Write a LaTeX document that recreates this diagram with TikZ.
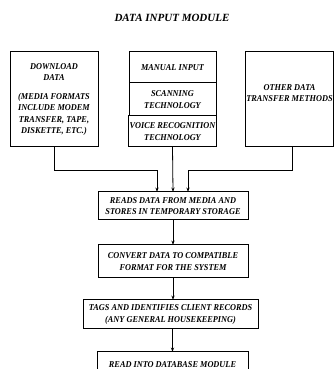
\documentclass[tikz,border=0pt]{standalone}
\usepackage{fontspec}
\newfontfamily\patfont{Liberation Serif}
\newfontfamily\patnarrow[FakeStretch=0.92]{Liberation Serif}
\usepackage{tikz}
\usetikzlibrary{positioning,arrows.meta}

\newcommand{\boxfont}{\patnarrow\bfseries\itshape\fontsize{9}{11.5}\selectfont}
\tikzset{
  box/.style={draw, line width=1pt, align=center, inner sep=1pt, font=\boxfont},
  link/.style={line width=0.8pt, -{Stealth[length=4.5pt,width=3.2pt]}},
}

\begin{document}
\begin{tikzpicture}[x=1pt, y=1pt, every node/.style={outer sep=0pt}]
\useasboundingbox (0,0) rectangle (333,369);
% TITLE
\node[font=\patfont\bfseries\itshape\fontsize{11}{13}\selectfont] (title) at (172,351) {DATA INPUT MODULE};
% INPUT SOURCES: download, manual stack, other methods
\node[box, minimum width=88pt, minimum height=95pt] (dl) at (54,269.5) {DOWNLOAD\\DATA\\[7pt](MEDIA FORMATS\\INCLUDE MODEM\\TRANSFER, TAPE,\\DISKETTE, ETC.)};
\node[box, minimum width=87pt, minimum height=31pt] (manual) at (172.5,301.5) {MANUAL INPUT};
\node[box, minimum width=87pt, minimum height=33pt, below=0pt of manual] (scan) {SCANNING\\TECHNOLOGY};
\node[box, minimum width=87pt, minimum height=31pt, below=0pt of scan] (voice) {VOICE RECOGNITION\\TECHNOLOGY};
\node[box, minimum width=85pt, minimum height=95pt, text depth=13pt] (other) at (289.5,269.5) {OTHER DATA\\TRANSFER METHODS};
% PROCESSING CHAIN
\node[box, minimum width=150pt, minimum height=28pt] (reads) at (173,163) {READS DATA FROM MEDIA AND\\STORES IN TEMPORARY STORAGE};
\node[box, minimum width=150pt, minimum height=33pt, below=25pt of reads] (convert) {CONVERT DATA TO COMPATIBLE\\FORMAT FOR THE SYSTEM};
\node[box, minimum width=175pt, minimum height=29pt, below=22pt of convert, xshift=-2.5pt] (tags) {TAGS AND IDENTIFIES CLIENT RECORDS\\(ANY GENERAL HOUSEKEEPING)};
\node[box, minimum width=151pt, minimum height=26pt, below=23pt of tags, xshift=2pt] (readdb) {READ INTO DATABASE MODULE};
% CONNECTORS
\draw[link] (dl.south) -- ++(0,-23) -| ([xshift=-16pt]reads.north);
\draw[link] (voice.south) -- (reads.north);
\draw[link] ([xshift=2.5pt]other.south) -- ++(0,-23) -| ([xshift=15pt]reads.north);
\draw[link] (reads) -- (convert);
\draw[link] (convert.south) -- (convert.south |- tags.north);
\draw[link] (tags.south -| readdb.north) -- (readdb.north);
\end{tikzpicture}
\end{document}
